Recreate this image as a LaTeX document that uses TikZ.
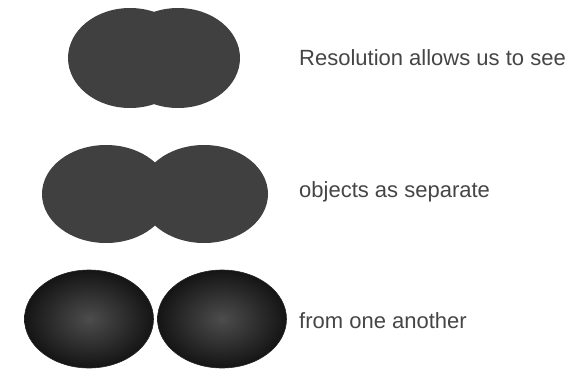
\documentclass[tikz,border=0pt]{standalone}
\usepackage{fontspec}
\setmainfont{Liberation Sans}
\usetikzlibrary{shapes.geometric}
\definecolor{blob}{HTML}{404040}
\definecolor{txt}{HTML}{454545}
\tikzset{
  flatblob/.style={ellipse, fill=blob, inner sep=0pt, minimum width=#1},
  flatblob/.default=124pt,
  shadeblob/.style={ellipse, inner sep=0pt, minimum width=129pt, minimum height=98pt,
    inner color=black!70, outer color=black!92, draw=black!85, line width=0.6pt},
  caption/.style={anchor=base west, text=txt, font=\fontsize{22}{26}\selectfont, inner sep=0pt}
}
\begin{document}
\begin{tikzpicture}[x=1pt,y=-1pt]
\useasboundingbox (0,0) rectangle (581,369);
% top row
\node[flatblob=124pt, minimum height=100pt] (t1) at (130,58) {};
\node[flatblob=124pt, minimum height=100pt] (t2) at (178,58) {};
% middle row
\node[flatblob=128pt, minimum height=98pt] (m1) at (106,194) {};
\node[flatblob=128pt, minimum height=98pt] (m2) at (204,194) {};
% bottom row
\node[shadeblob] (b1) at (89,319) {};
\node[shadeblob] (b2) at (222,319) {};
% captions
\node[caption] (c1) at (299,66) {Resolution allows us to see};
\node[caption] (c2) at (299,197) {objects as separate};
\node[caption] (c3) at (299,328) {from one another};
\end{tikzpicture}
\end{document}
